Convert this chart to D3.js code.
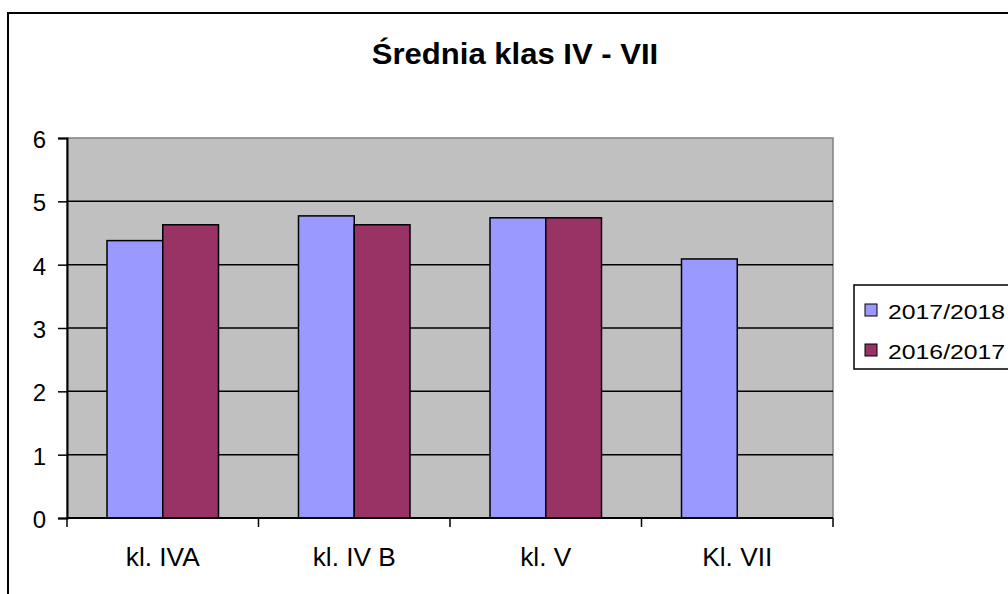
<!DOCTYPE html>
<html>
<head>
<meta charset="utf-8">
<script src="https://d3js.org/d3.v7.min.js"></script>
<style>
  body { margin: 0; background: #fff; }
  text { font-family: Arial, "Liberation Sans", sans-serif; fill: #000; }
</style>
</head>
<body>
<svg id="chart" width="1008" height="594"></svg>
<script>
// dane
var categories = ["kl. IVA", "kl. IV B", "kl. V", "Kl. VII"];
var seriesNames = ["2017/2018", "2016/2017"];
var values2017_2018 = [4.38, 4.77, 4.74, 4.09];
var values2016_2017 = [4.63, 4.63, 4.74, null];
var yTicks = [0, 1, 2, 3, 4, 5, 6];
var colors = ["#9999FF", "#993366"];

var svg = d3.select("#chart");
var plotLeft = 67, plotRight = 833, plotTop = 138, plotBottom = 518;

// rozciagniecie tekstu w poziomie
function stretch(sel, k) {
    sel.each(function () {
        var w = this.getComputedTextLength();
        d3.select(this).attr("textLength", w * k).attr("lengthAdjust", "spacingAndGlyphs");
    });
}

// ramka
svg.append("rect")
    .attr("x", 8).attr("y", 13)
    .attr("width", 1100).attr("height", 700)
    .attr("fill", "#fff").attr("stroke", "#000").attr("stroke-width", 2);

// tytul
svg.append("text")
    .attr("x", 515).attr("y", 64)
    .attr("text-anchor", "middle")
    .attr("font-size", 29).attr("font-weight", "bold")
    .text("Średnia klas IV - VII")
    .call(stretch, 1.07);

var x0 = d3.scaleBand().domain(categories).range([plotLeft, plotRight]).paddingInner(0).paddingOuter(0);
var groupPad = 40;
var x1 = d3.scaleBand().domain(seriesNames).range([groupPad, x0.bandwidth() - groupPad]);
var y = d3.scaleLinear().domain([0, 6]).range([plotBottom, plotTop]);

// tlo wykresu
svg.append("rect")
    .attr("x", plotLeft).attr("y", plotTop)
    .attr("width", plotRight - plotLeft).attr("height", plotBottom - plotTop)
    .attr("fill", "#C0C0C0").attr("stroke", "#808080").attr("stroke-width", 1.5);

// linie siatki
svg.append("g").selectAll("line")
    .data(yTicks.filter(function (d) { return d > 0 && d < 6; }))
    .join("line")
    .attr("x1", plotLeft).attr("x2", plotRight)
    .attr("y1", function (d) { return y(d); }).attr("y2", function (d) { return y(d); })
    .attr("stroke", "#000").attr("stroke-width", 1.5);

// slupki
var data = [values2017_2018, values2016_2017];
var g = svg.append("g");
for (var s = 0; s < data.length; s++) {
    for (var i = 0; i < categories.length; i++) {
        var v = data[s][i];
        if (v == null) continue;
        g.append("rect")
            .attr("x", x0(categories[i]) + x1(seriesNames[s]))
            .attr("y", y(v))
            .attr("width", x1.bandwidth())
            .attr("height", y(0) - y(v))
            .attr("fill", colors[s])
            .attr("stroke", "#000").attr("stroke-width", 1.5);
    }
}

// os Y
var yAxis = svg.append("g").attr("transform", "translate(" + plotLeft + ",0)")
    .call(d3.axisLeft(y).tickValues(yTicks).tickFormat(d3.format("d")).tickSize(9).tickPadding(12));
yAxis.select(".domain").attr("stroke", "#000").attr("stroke-width", 2);
yAxis.selectAll(".tick line").attr("stroke", "#000").attr("stroke-width", 1.5);
yAxis.selectAll(".tick text").attr("font-size", 24).attr("font-family", "Arial, 'Liberation Sans', sans-serif").attr("dy", "0.4em");

// os X
var xAxis = svg.append("g").attr("transform", "translate(0," + plotBottom + ")");
xAxis.append("line")
    .attr("x1", plotLeft).attr("x2", plotRight).attr("y1", 0).attr("y2", 0)
    .attr("stroke", "#000").attr("stroke-width", 2);
var edges = categories.map(function (c) { return x0(c); }).concat([plotRight]);
xAxis.selectAll(".edge").data(edges).join("line")
    .attr("x1", function (d) { return d; }).attr("x2", function (d) { return d; })
    .attr("y1", 0).attr("y2", 9)
    .attr("stroke", "#000").attr("stroke-width", 1.5);
xAxis.selectAll(".lbl").data(categories).join("text")
    .attr("x", function (d) { return x0(d) + x0.bandwidth() / 2; })
    .attr("y", 48)
    .attr("text-anchor", "middle")
    .attr("font-size", 25)
    .text(function (d) { return d; })
    .call(stretch, 1.05);

// legenda
var lg = svg.append("g");
lg.append("rect")
    .attr("x", 854).attr("y", 285).attr("width", 200).attr("height", 84)
    .attr("fill", "#fff").attr("stroke", "#000").attr("stroke-width", 1.5);
seriesNames.forEach(function (name, i) {
    var yy = 304 + i * 40;
    lg.append("rect")
        .attr("x", 865).attr("y", yy).attr("width", 12).attr("height", 12)
        .attr("fill", colors[i]).attr("stroke", "#000").attr("stroke-width", 1);
    lg.append("text")
        .attr("x", 888).attr("y", yy + 14.5)
        .attr("font-size", 21)
        .text(name)
        .call(stretch, 1.18);
});
</script>
</body>
</html>
